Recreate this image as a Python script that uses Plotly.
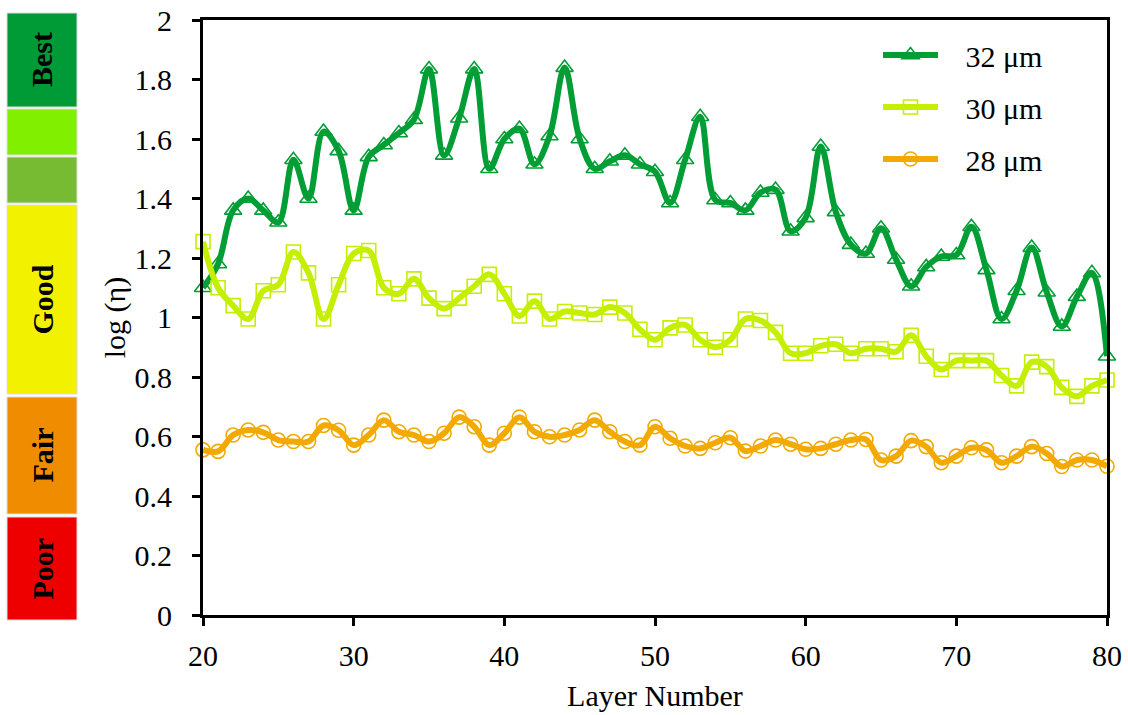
import plotly.graph_objects as go

# ---------------- data ----------------
layers = list(range(20, 81))

eta_32um = [1.10, 1.18, 1.36, 1.40, 1.36, 1.32, 1.53, 1.40, 1.625, 1.56,
            1.36, 1.54, 1.58, 1.62, 1.665, 1.835, 1.545, 1.67, 1.835, 1.50,
            1.60, 1.635, 1.515, 1.61, 1.84, 1.60, 1.50, 1.525, 1.545, 1.515,
            1.49, 1.385, 1.53, 1.675, 1.395, 1.385, 1.36, 1.42, 1.43, 1.29,
            1.335, 1.575, 1.355, 1.245, 1.215, 1.30, 1.195, 1.105, 1.17, 1.205,
            1.21, 1.305, 1.16, 0.995, 1.09, 1.235, 1.085, 0.97, 1.07, 1.15,
            0.87]

eta_30um = [1.255, 1.10, 1.04, 0.995, 1.09, 1.11, 1.22, 1.15, 0.995, 1.11,
            1.215, 1.225, 1.10, 1.08, 1.13, 1.065, 1.03, 1.065, 1.105, 1.145,
            1.08, 1.005, 1.055, 0.995, 1.02, 1.015, 1.01, 1.035, 1.015, 0.96,
            0.925, 0.965, 0.975, 0.925, 0.90, 0.925, 0.995, 0.99, 0.95, 0.88,
            0.88, 0.905, 0.91, 0.88, 0.895, 0.895, 0.885, 0.94, 0.87, 0.825,
            0.855, 0.855, 0.855, 0.805, 0.77, 0.85, 0.835, 0.765, 0.735, 0.77,
            0.79]

eta_28um = [0.555, 0.55, 0.605, 0.622, 0.614, 0.588, 0.583, 0.583, 0.637, 0.621,
            0.571, 0.605, 0.655, 0.616, 0.605, 0.583, 0.611, 0.665, 0.633, 0.571,
            0.611, 0.665, 0.616, 0.599, 0.605, 0.622, 0.655, 0.616, 0.583, 0.571,
            0.633, 0.594, 0.568, 0.560, 0.579, 0.596, 0.551, 0.568, 0.588, 0.574,
            0.557, 0.560, 0.574, 0.588, 0.590, 0.521, 0.534, 0.586, 0.566, 0.512,
            0.534, 0.562, 0.555, 0.512, 0.534, 0.566, 0.543, 0.499, 0.521, 0.521,
            0.50]

series_names = ["32 μm", "30 μm", "28 μm"]

band_labels = ["Poor", "Fair", "Good", "", "", "Best"]

x_ticks = [20, 30, 40, 50, 60, 70, 80]

# ---------------- styles / layout ----------------
series_colors = ["#009e35", "#c4ef00", "#f2a900"]
series_symbols = ["triangle-up-open", "square-open", "circle-open"]
series_sizes = [15, 14, 14]

band_colors = ["#ee0000", "#f08c00", "#f2f200", "#77bb33", "#80f000", "#009a36"]
# window-pixel extents (top, bottom) of the quality bands
band_px = [(517, 620), (397, 514), (205, 394), (157, 203), (109, 155), (13, 107)]

W, H = 1128, 715
PLOT_L, PLOT_R, PLOT_T, PLOT_B = 203, 1107, 20, 615   # window pixels
ML, MT = PLOT_L, PLOT_T
PW, PH = PLOT_R - PLOT_L, PLOT_B - PLOT_T
MR, MB = W - ML - PW, H - MT - PH

def px_to_paper_x(px):
    return (px - PLOT_L) / PW

def px_to_paper_y(py):
    return (PLOT_B - py) / PH

FONT = "Liberation Serif, Times New Roman, serif"

fig = go.Figure()

for name, ys, col, sym, sz in zip(series_names, [eta_32um, eta_30um, eta_28um],
                                  series_colors, series_symbols, series_sizes):
    fig.add_trace(go.Scatter(
        x=layers, y=ys, name="\u00a0\u00a0\u00a0" + name, legendgroup=name,
        mode="lines+markers",
        line=dict(color=col, width=6, shape="spline", smoothing=1.0),
        marker=dict(symbol=sym, size=sz, color=col, line=dict(color=col, width=1.6)),
        cliponaxis=False,
    ))

shapes = []
annotations = []
bx0, bx1 = px_to_paper_x(7), px_to_paper_x(77)
for lab, col, (top, bot) in zip(band_labels, band_colors, band_px):
    y0, y1 = px_to_paper_y(bot), px_to_paper_y(top)
    shapes.append(dict(type="rect", xref="paper", yref="paper",
                       x0=bx0, x1=bx1, y0=y0, y1=y1,
                       fillcolor=col, line=dict(color="#dcdcdc", width=1),
                       layer="below"))
    if lab:
        annotations.append(dict(xref="paper", yref="paper",
                                x=(bx0 + bx1) / 2, y=(y0 + y1) / 2,
                                xanchor="center", yanchor="middle",
                                text="<b>" + lab + "</b>", textangle=-90,
                                showarrow=False,
                                font=dict(family=FONT, size=30, color="black")))

fig.update_layout(
    width=W, height=H,
    margin=dict(l=ML, r=MR, t=MT, b=MB, autoexpand=False),
    paper_bgcolor="white", plot_bgcolor="white",
    font=dict(family=FONT, size=30, color="black"),
    showlegend=True,
    legend=dict(x=px_to_paper_x(878), y=px_to_paper_y(29), xanchor="left", yanchor="top",
                bgcolor="rgba(0,0,0,0)", font=dict(family=FONT, size=30),
                itemwidth=55, tracegroupgap=10, traceorder="grouped"),
    shapes=shapes,
    annotations=annotations,
)

fig.update_xaxes(range=[20, 80], tickvals=x_ticks, ticks="outside", ticklen=8, tickwidth=3,
                 tickcolor="black", showline=True, linewidth=3, linecolor="black",
                 mirror=True, showgrid=False, zeroline=False, automargin=False,
                 ticklabelstandoff=4, ticklabeloverflow="allow",
                 title=dict(text="Layer Number", standoff=14,
                            font=dict(family=FONT, size=30)),
                 tickfont=dict(family=FONT, size=30))
fig.update_yaxes(range=[0, 2], dtick=0.2, ticks="outside", ticklen=8, tickwidth=3,
                 tickcolor="black", showline=True, linewidth=3, linecolor="black",
                 mirror=True, showgrid=False, zeroline=False, automargin=False,
                 ticklabelstandoff=14, ticklabeloverflow="allow",
                 title=dict(text="log (η)", standoff=1,
                            font=dict(family=FONT, size=30)),
                 tickfont=dict(family=FONT, size=30))

fig.write_html("out.html",
               config={"displayModeBar": False},
               post_script="document.body.style.margin='0';"
                           "document.body.style.overflow='hidden';")
